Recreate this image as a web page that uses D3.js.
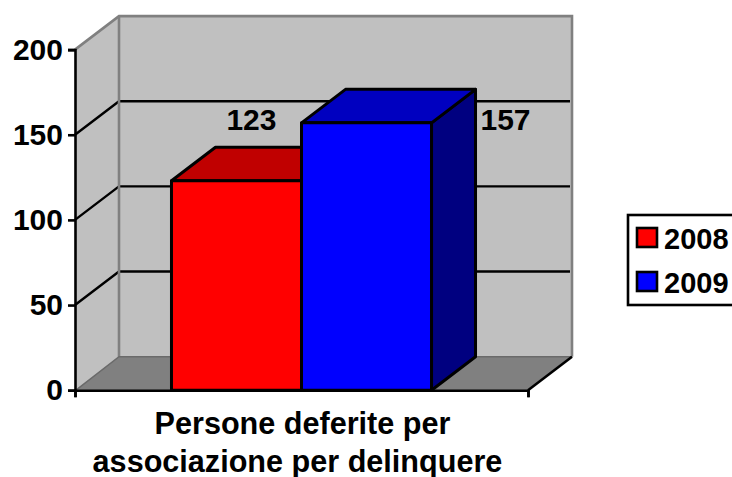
<!DOCTYPE html>
<html><head><meta charset="utf-8">
<script src="https://cdnjs.cloudflare.com/ajax/libs/d3/7.8.5/d3.min.js"></script>
<style>html,body{margin:0;padding:0;background:#fff;overflow:hidden}svg{display:block}
text{font-family:"Liberation Sans",Arial,sans-serif;font-weight:700;fill:#000}</style>
</head><body><svg id="c" width="732" height="477"></svg>
<script>
const category = "Persone deferite per associazione per delinquere";
const categoryLines = ["Persone deferite per", "associazione per delinquere"];
const categoryShift = [1, -4];
const years = ["2008", "2009"];
const values = [123, 157];
const yTicks = [0, 50, 100, 150, 200];
const faceFront = ["#ff0000", "#0000ff"];
const faceTop = ["#c00000", "#0000c0"];
const faceSide = ["#800000", "#000080"];
const dx = 44, dy = -33.5;
const FS = 30, FSCAT = 30.6, FSLEG = 29;

const svg = d3.select("#c");
const y = d3.scaleLinear().domain([0, 200]).range([390.2, 49.6]);
const x = d3.scaleBand().domain(years).range([75, 528]).paddingInner(0).paddingOuter(0.742);
const poly = pts => pts.map(p => p.join(",")).join(" ");
const x0 = x.range()[0], x1 = x.range()[1], yb = y(0), yt = y(200);

// walls and floor
svg.append("polygon").attr("points", poly([[x0, yb], [x0 + dx, yb + dy], [x0 + dx, yt + dy], [x0, yt]])).attr("fill", "#c0c0c0");
svg.append("polygon").attr("points", poly([[x0 + dx, yb + dy], [x1 + dx, yb + dy], [x1 + dx, yt + dy], [x0 + dx, yt + dy]])).attr("fill", "#c0c0c0");
svg.append("polygon").attr("points", poly([[x0, yb], [x1, yb], [x1 + dx, yb + dy], [x0 + dx, yb + dy]])).attr("fill", "#808080");

// gridlines
const grid = svg.append("g").attr("fill", "none").attr("stroke", "#000").attr("stroke-width", 2.4);
yTicks.filter(t => t > 0 && t < 200).forEach(t => {
  grid.append("polyline").attr("points", poly([[x0, y(t)], [x0 + dx, y(t) + dy], [x1 + dx - 2, y(t) + dy]]));
});

// wall outlines
const edge = svg.append("g").attr("fill", "none").attr("stroke", "#808080").attr("stroke-width", 2.6);
edge.append("polyline").attr("points", poly([[x0, yt], [x0 + dx, yt + dy], [x1 + dx, yt + dy], [x1 + dx, yb + dy]]));
edge.append("line").attr("x1", x0 + dx).attr("x2", x0 + dx).attr("y1", yt + dy).attr("y2", yb + dy);
svg.append("polyline").attr("points", poly([[x0 + 1, yb], [x0 + dx, yb + dy], [x1 + dx, yb + dy]]))
  .attr("fill", "none").attr("stroke", "#6a6a6a").attr("stroke-width", 1.5);

// bars
years.forEach((yr, i) => {
  const l = x(yr), r = l + x.bandwidth(), t = y(values[i]);
  const g = svg.append("g").attr("stroke", "#000").attr("stroke-width", 3).attr("stroke-linejoin", "round");
  g.append("polygon").attr("points", poly([[r, t], [r + dx, t + dy], [r + dx, yb + dy], [r, yb]])).attr("fill", faceSide[i]);
  g.append("polygon").attr("points", poly([[l, t], [l + dx, t + dy], [r + dx, t + dy], [r, t]])).attr("fill", faceTop[i]);
  g.append("rect").attr("x", l).attr("y", t).attr("width", r - l).attr("height", yb - t).attr("fill", faceFront[i]);
});

// axes
const yAxis = svg.append("g").attr("transform", `translate(${x0},0)`)
  .call(d3.axisLeft(y).tickValues(yTicks).tickSize(7).tickPadding(5));
yAxis.select(".domain").attr("stroke", "#000").attr("stroke-width", 2.6);
yAxis.selectAll(".tick line").attr("stroke", "#000").attr("stroke-width", 2.6);
yAxis.selectAll("text").style("font-size", FS + "px").style("font-family", '"Liberation Sans"').style("font-weight", 700);

const xEdge = d3.scalePoint().domain(["start", "end"]).range([x0, x1]);
const xAxis = svg.append("g").attr("transform", `translate(0,${yb})`)
  .call(d3.axisBottom(xEdge).tickSize(7).tickFormat(""));
xAxis.select(".domain").attr("stroke", "#000").attr("stroke-width", 2.6);
xAxis.selectAll(".tick line").attr("stroke", "#000").attr("stroke-width", 2.6);
svg.append("line").attr("x1", x1).attr("y1", yb).attr("x2", x1 + dx).attr("y2", yb + dy).attr("stroke", "#000").attr("stroke-width", 2.6);

// category label
categoryLines.forEach((s, i) => {
  svg.append("text").attr("x", (x0 + x1) / 2 + categoryShift[i]).attr("y", 433.5 + i * 38).attr("text-anchor", "middle").style("font-size", FSCAT + "px").text(s);
});

// value labels (positioned relative to each bar, as placed in the source)
const labelOffset = [{ a: 15, b: -51 }, { a: 139, b: 7.5 }];
years.forEach((yr, i) => {
  svg.append("text").attr("x", x(yr) + labelOffset[i].a + 65).attr("y", y(values[i]) + labelOffset[i].b)
    .attr("text-anchor", "middle").style("font-size", FS + "px").text(values[i]);
});

// legend
const lg = svg.append("g");
lg.append("rect").attr("x", 628).attr("y", 215).attr("width", 112).attr("height", 90).attr("fill", "#fff").attr("stroke", "#000").attr("stroke-width", 2.6);
years.forEach((yr, i) => {
  const yy = 228 + i * 44;
  lg.append("rect").attr("x", 637).attr("y", yy).attr("width", 20).attr("height", 19).attr("fill", faceFront[i]).attr("stroke", "#000").attr("stroke-width", 2.6);
  lg.append("text").attr("x", 664).attr("y", yy + 21).style("font-size", FSLEG + "px").text(yr);
});
</script></body></html>
